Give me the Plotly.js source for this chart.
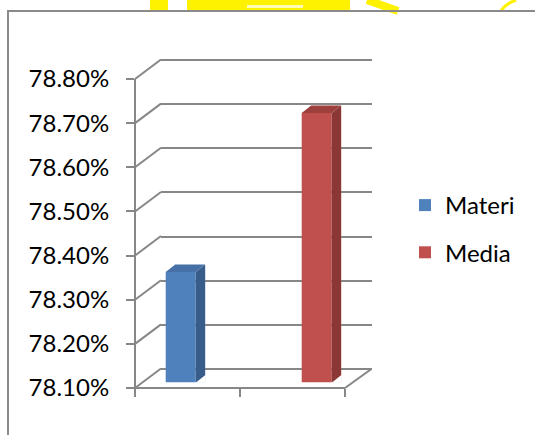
<!DOCTYPE html>
<html>
<head>
<meta charset="utf-8">
<script src="https://cdn.plot.ly/plotly-3.0.1.min.js"></script>
<style>
  html, body { margin: 0; padding: 0; background: #ffffff; }
  #chart { width: 535px; height: 435px; }
</style>
</head>
<body>
<div id="chart"></div>
<script>
// ---- data ----
const categories = ['Materi', 'Media'];
const values = [78.35, 78.71];
const tickValues = [78.1, 78.2, 78.3, 78.4, 78.5, 78.6, 78.7, 78.8];
const tickLabels = ['78.10%', '78.20%', '78.30%', '78.40%', '78.50%', '78.60%', '78.70%', '78.80%'];

// ---- styles ----
const frontColors = ['#4f81bd', '#c0504d'];
const sideColors = ['#385d8a', '#8a3735'];
const topColors = ['#4771a6', '#9d3f3c'];
const gridColor = '#878787';
const W = 535, H = 435;
const px = x => x / W;
const py = y => 1 - y / H;

const yMin = tickValues[0], yMax = tickValues[tickValues.length - 1];
const pxPerUnit = (388 - 79) / (yMax - yMin);
const padPx = 3;
const padVal = padPx / pxPerUnit;

// front plane geometry
const frontTopVal = yMin + (388 - 59) / pxPerUnit;
const xPxPerUnit = 105;
const boundaries = categories.map((c, i) => i - 0.5).concat([categories.length - 0.5]);
const xLeft = boundaries[0], xRight = boundaries[boundaries.length - 1];
const frontXMax = xLeft + (372 - 135) / xPxPerUnit;

// bar plane
const barCenter0 = 180.7, barStep = 136, barDom = [145, 355];

const lineStyle = { color: gridColor, width: 2 };

const traces = [
  { type: 'scatter', x: [], y: [], xaxis: 'x', yaxis: 'y', showlegend: false, hoverinfo: 'skip' },
  { type: 'scatter', x: [], y: [], xaxis: 'x2', yaxis: 'y2', showlegend: false, hoverinfo: 'skip' }
].concat(categories.map((c, i) => ({
  type: 'bar',
  name: c,
  x: [c],
  y: [values[i]],
  xaxis: 'x3', yaxis: 'y3',
  width: 30 / barStep,
  marker: { color: frontColors[i], line: { width: 0 } },
  legendgroup: c,
  hoverinfo: 'skip'
}))).concat([
  { type: 'scatter', x: [], y: [], xaxis: 'x4', yaxis: 'y4', showlegend: false, hoverinfo: 'skip' }
]);

const shapes = [];
// frame & watermark
const yellow = '#fff200';
shapes.push({ type: 'rect', xref: 'paper', yref: 'paper', x0: px(150), x1: px(168), y0: py(11), y1: py(0), fillcolor: yellow, line: { width: 0 }, layer: 'below' });
shapes.push({ type: 'rect', xref: 'paper', yref: 'paper', x0: px(187), x1: px(350), y0: py(11), y1: py(0), fillcolor: yellow, line: { width: 0 }, layer: 'below' });
shapes.push({ type: 'rect', xref: 'paper', yref: 'paper', x0: px(247), x1: px(303), y0: py(8), y1: py(5), fillcolor: '#fffbb0', line: { width: 0 }, layer: 'below' });
shapes.push({ type: 'line', xref: 'paper', yref: 'paper', x0: px(367), x1: px(398), y0: py(0), y1: py(11), line: { color: yellow, width: 8 }, layer: 'below' });
shapes.push({ type: 'path', xref: 'paper', yref: 'paper', path: `M${px(516)},${py(0)} Q${px(505)},${py(4)} ${px(501)},${py(11)}`, line: { color: yellow, width: 3 }, layer: 'below' });
shapes.push({ type: 'path', xref: 'paper', yref: 'paper', path: `M${px(8)},${py(440)} L${px(8)},${py(11)} L${px(540)},${py(11)}`, line: { color: '#8a8a8a', width: 2 } });

// front axis line and front floor edge (plot-frame geometry)
shapes.push({ type: 'path', xref: 'paper', yref: 'paper',
  path: `M${px(135)},${py(79)} L${px(135)},${py(388)} L${px(345)},${py(388)}`, line: lineStyle });

// connectors from front ticks to back wall
tickValues.forEach(v => {
  shapes.push({ type: 'line', xref: 'x2', yref: 'y2', xsizemode: 'pixel', ysizemode: 'pixel',
    xanchor: xLeft, yanchor: v, x0: 0, y0: 0, x1: 26, y1: 19.5, line: lineStyle });
});
// floor right edge
shapes.push({ type: 'line', xref: 'x2', yref: 'y2', xsizemode: 'pixel', ysizemode: 'pixel',
  xanchor: xRight, yanchor: yMin, x0: 0, y0: 0, x1: 27, y1: 19.5, line: lineStyle });

// bar side and top faces (bar plane subplot x3/y3)
categories.forEach((c, i) => {
  shapes.push({ type: 'rect', xref: 'x3', yref: 'y3', xsizemode: 'pixel', xanchor: i,
    x0: 15, x1: 24.5, y0: yMin, y1: values[i], fillcolor: sideColors[i], line: { width: 0 } });
  shapes.push({ type: 'path', xref: 'x3', yref: 'y3', xsizemode: 'pixel', ysizemode: 'pixel',
    xanchor: i, yanchor: values[i], path: 'M15,0L24.5,7.5L24.5,0Z', fillcolor: sideColors[i], line: { width: 0 } });
  shapes.push({ type: 'path', xref: 'x3', yref: 'y3', xsizemode: 'pixel', ysizemode: 'pixel',
    xanchor: i, yanchor: yMin, path: 'M15,-0.5L25,-0.5L25,7.5Z', fillcolor: '#ffffff', line: { width: 0 } });
  shapes.push({ type: 'path', xref: 'x3', yref: 'y3', xsizemode: 'pixel', ysizemode: 'pixel',
    xanchor: i, yanchor: values[i], path: 'M-15,0L15,0L24.5,7.5L-5.5,7.5Z', fillcolor: topColors[i], line: { width: 0 } });
});

const hidden = { showgrid: false, zeroline: false, showline: false, showticklabels: false, ticks: '' };

const layout = {
  width: W, height: H,
  margin: { l: 0, r: 0, t: 0, b: 0 },
  paper_bgcolor: '#ffffff',
  plot_bgcolor: 'rgba(0,0,0,0)',
  showlegend: true,
  barmode: 'overlay',
  font: { family: 'Lato, "Open Sans", sans-serif', color: '#000000' },
  // back wall gridlines (padded so edge gridlines are kept)
  xaxis: Object.assign({ domain: [px(161), px(372)], range: [0, 1], anchor: 'y', fixedrange: true }, hidden),
  yaxis: { domain: [py(369 + padPx), py(60 - padPx)], range: [yMin - padVal, yMax + padVal], anchor: 'x',
    tickmode: 'array', tickvals: tickValues, showgrid: true, gridcolor: gridColor, gridwidth: 2,
    zeroline: false, showline: false, showticklabels: false, ticks: '', fixedrange: true },
  // connector plane (hidden axes)
  xaxis2: Object.assign({ domain: [px(135 - padPx), px(372)], type: 'linear',
    range: [xLeft - padPx / xPxPerUnit, frontXMax], anchor: 'y2', fixedrange: true }, hidden),
  yaxis2: Object.assign({ domain: [py(388 + padPx), py(59)], range: [yMin - padVal, frontTopVal],
    anchor: 'x2', fixedrange: true }, hidden),
  // bar plane
  xaxis3: Object.assign({ domain: [px(barDom[0]), px(barDom[1])], type: 'category',
    categoryarray: categories, categoryorder: 'array',
    range: [(barDom[0] - barCenter0) / barStep, (barDom[1] - barCenter0) / barStep],
    anchor: 'y3', fixedrange: true }, hidden),
  yaxis3: Object.assign({ domain: [py(382.3), py(382.3 - (yMax - yMin) * pxPerUnit)],
    range: [yMin, yMax], anchor: 'x3', fixedrange: true }, hidden),
  // front axes: ticks, labels
  xaxis4: { domain: [px(135), px(345)], type: 'linear', range: [xLeft, xRight], anchor: 'y4',
    tickmode: 'array', tickvals: boundaries, ticks: 'outside', ticklen: 8, tickwidth: 2, tickcolor: gridColor,
    showticklabels: false, showgrid: false, zeroline: false, showline: false, fixedrange: true },
  yaxis4: { domain: [py(388), py(79)], range: [yMin, yMax], anchor: 'x4',
    tickmode: 'array', tickvals: tickValues, ticktext: tickLabels, ticks: 'outside', ticklen: 8, tickwidth: 2,
    tickcolor: gridColor, ticklabelstandoff: 12, showgrid: false, zeroline: false, showline: false,
    tickfont: { family: 'Lato, "Open Sans", sans-serif', size: 24, color: '#000000' }, fixedrange: true },
  legend: { x: px(405), y: py(183), xanchor: 'left', yanchor: 'top',
    traceorder: 'grouped', tracegroupgap: 13, bgcolor: 'rgba(0,0,0,0)',
    font: { family: 'Lato, "Open Sans", sans-serif', size: 24, color: '#000000' } },
  shapes: shapes
};

Plotly.newPlot('chart', traces, layout, { displayModeBar: false, staticPlot: true });
</script>
</body>
</html>
